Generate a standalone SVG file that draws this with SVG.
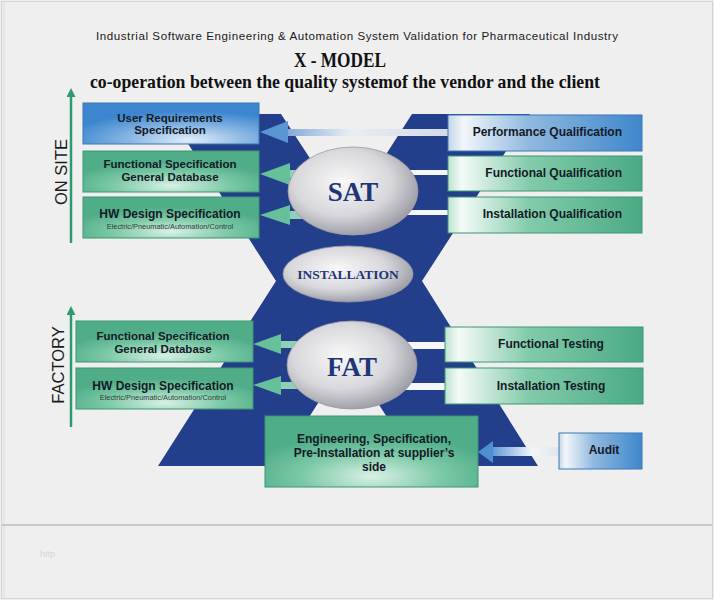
<svg xmlns="http://www.w3.org/2000/svg" width="714" height="600" viewBox="0 0 714 600">
<defs>
<style>
.t{font-family:"Liberation Sans",Arial,sans-serif;font-weight:bold;font-size:12px;fill:#141a26;text-anchor:middle}
.t2{font-family:"Liberation Sans",Arial,sans-serif;font-weight:bold;font-size:11.5px;fill:#141a26;text-anchor:middle}
.te{font-family:"Liberation Sans",Arial,sans-serif;font-weight:bold;font-size:12px;fill:#141a26;text-anchor:end}
.sub{font-family:"Liberation Sans",Arial,sans-serif;font-size:7.4px;fill:#2c3c36;text-anchor:middle}
.ser{font-family:"Liberation Serif","Times New Roman",serif;font-weight:bold;fill:#1e3577;text-anchor:middle}
.side{font-family:"Liberation Sans",Arial,sans-serif;font-size:16.5px;fill:#1a1a1a;text-anchor:middle}
.gb{stroke:#3f9675;stroke-width:1}
.bb{stroke:#3a78b8;stroke-width:1}
.el{stroke:#9a9aa4;stroke-width:0.8}
.vline{stroke:#2f9a6e;stroke-width:2.5}
</style>
<radialGradient id="gGreenL" cx="0.5" cy="0.85" r="0.6">
<stop offset="0" stop-color="#d9f1e6"/><stop offset="0.55" stop-color="#7cc9a6"/><stop offset="1" stop-color="#4fad88"/>
</radialGradient>
<linearGradient id="gGreenR" x1="0" y1="0" x2="1" y2="0">
<stop offset="0" stop-color="#bde2d0"/><stop offset="0.07" stop-color="#f5fbf8"/><stop offset="0.42" stop-color="#82cbaa"/><stop offset="1" stop-color="#4aaa84"/>
</linearGradient>
<radialGradient id="gBlueL" cx="0.6" cy="0.9" r="0.7">
<stop offset="0" stop-color="#e2edf8"/><stop offset="0.5" stop-color="#86b5e2"/><stop offset="1" stop-color="#3b86cf"/>
</radialGradient>
<linearGradient id="gBlueR" x1="0" y1="0" x2="1" y2="0">
<stop offset="0" stop-color="#c5d6e6"/><stop offset="0.08" stop-color="#f2f6fa"/><stop offset="0.42" stop-color="#8fb8df"/><stop offset="1" stop-color="#3f87cc"/>
</linearGradient>
<linearGradient id="gShaftB" x1="0" y1="0" x2="1" y2="0">
<stop offset="0" stop-color="#7fa9d6"/><stop offset="0.4" stop-color="#e9eef4"/><stop offset="1" stop-color="#d2dae4"/>
</linearGradient>
<linearGradient id="gShaftA" x1="0" y1="0" x2="1" y2="0">
<stop offset="0" stop-color="#5a96d2"/><stop offset="0.6" stop-color="#f2f6fa"/><stop offset="1" stop-color="#dfe6ee"/>
</linearGradient>
<radialGradient id="gEll" cx="0.42" cy="0.4" r="0.62">
<stop offset="0" stop-color="#f8f8f8"/><stop offset="0.6" stop-color="#d8d8dc"/><stop offset="1" stop-color="#9c9ca6"/>
</radialGradient>
<marker id="up" viewBox="0 0 10 10" refX="0" refY="5" markerWidth="11" markerHeight="9" markerUnits="userSpaceOnUse" orient="auto">
<path d="M0,0 L10,5 L0,10 z" fill="#2f9a6e"/>
</marker>
</defs>

<rect width="714" height="600" fill="#efefef"/>
<rect x="1.5" y="1.5" width="711" height="597" fill="none" stroke="#d2d2d2"/>
<line x1="4" y1="2" x2="4" y2="598" stroke="#dadada"/>
<line x1="2" y1="525" x2="712" y2="525" stroke="#bdbdbd" stroke-width="1.5"/>
<text x="40" y="557" style="font-family:'Liberation Sans',Arial,sans-serif;font-size:9px;fill:#d6d6d6">http</text>

<g id="titles">
<text x="357" y="40" style="font-family:'Liberation Sans',Arial,sans-serif;font-size:11.6px;fill:#1a1a1a;text-anchor:middle" textLength="522" lengthAdjust="spacing">Industrial Software Engineering &amp; Automation System Validation for Pharmaceutical Industry</text>
<text class="ser" x="340" y="66.5" style="font-size:21px;fill:#111" textLength="92" lengthAdjust="spacingAndGlyphs">X - MODEL</text>
<text class="ser" x="345" y="87.5" style="font-size:19px;fill:#111" textLength="510" lengthAdjust="spacingAndGlyphs">co-operation between the quality systemof the vendor and the client</text>
</g>

<g id="xshape">
<polygon points="169,114 281,114 347,215 412,114 530,114 422,281 538,466 418,466 348,356 278,466 158,466 276,281" fill="#233f8b"/>
</g>

<g id="connectors">
<rect x="286" y="129" width="162" height="7" fill="url(#gShaftB)"/>
<rect x="400" y="170" width="48" height="5" fill="#f4f6f8"/>
<rect x="400" y="210" width="48" height="5" fill="#f4f6f8"/>
<rect x="405" y="342" width="40" height="7" fill="#f4f6f8"/>
<rect x="405" y="383" width="40" height="7" fill="#f4f6f8"/>
<rect x="288" y="170" width="20" height="8" fill="#8fd1b4"/>
<rect x="288" y="211" width="20" height="8" fill="#8fd1b4"/>
<rect x="279" y="341" width="25" height="7" fill="#8fd1b4"/>
<rect x="279" y="382" width="25" height="7" fill="#8fd1b4"/>
<rect x="491" y="447" width="68" height="9" fill="url(#gShaftA)"/>
<polygon points="260,132 288,121 288,143" fill="#5a96d2"/>
<polygon points="260,174 290,163 290,185" fill="#66c09a"/>
<polygon points="260,215 290,205 290,225" fill="#66c09a"/>
<polygon points="253,344 281,334 281,354" fill="#66c09a"/>
<polygon points="253,385 281,376 281,395" fill="#66c09a"/>
<polygon points="478,452 493,441 493,463" fill="#4f8fd0"/>
<line class="vline" x1="71" y1="243" x2="71" y2="97" marker-end="url(#up)"/>
<line class="vline" x1="71" y1="427" x2="71" y2="315" marker-end="url(#up)"/>
</g>

<g id="sat"><ellipse class="el" cx="353" cy="191" rx="65" ry="44" fill="url(#gEll)"/><text class="ser" x="353" y="201" style="font-size:27px">SAT</text></g>
<g id="installation"><ellipse class="el" cx="348" cy="274" rx="65" ry="28" fill="url(#gEll)"/><text class="ser" x="348" y="279" style="font-size:13.5px">INSTALLATION</text></g>
<g id="fat"><ellipse class="el" cx="352" cy="365" rx="65" ry="44" fill="url(#gEll)"/><text class="ser" x="352" y="376" style="font-size:27px">FAT</text></g>

<g id="onsite-label"><text class="side" transform="translate(67,172) rotate(-90)">ON SITE</text></g>
<g id="factory-label"><text class="side" transform="translate(64,365) rotate(-90)">FACTORY</text></g>

<g id="urs"><rect class="bb" x="83" y="103" width="176" height="41" fill="url(#gBlueL)"/>
<text class="t2" x="170" y="121.5">User Requirements</text><text class="t2" x="170" y="134">Specification</text></g>
<g id="fs-site"><rect class="gb" x="83" y="151" width="176" height="41" fill="url(#gGreenL)"/>
<text class="t2" x="170" y="168">Functional Specification</text><text class="t2" x="170" y="180.5">General Database</text></g>
<g id="hw-site"><rect class="gb" x="83" y="197" width="176" height="41" fill="url(#gGreenL)"/>
<text class="t" x="170" y="218">HW Design Specification</text><text class="sub" x="170" y="229">Electric/Pneumatic/Automation/Control</text></g>

<g id="pq"><rect class="bb" x="448" y="115" width="194" height="36" fill="url(#gBlueR)"/><text class="te" x="622" y="136">Performance Qualification</text></g>
<g id="fq"><rect class="gb" x="448" y="156" width="194" height="35" fill="url(#gGreenR)"/><text class="te" x="622" y="177">Functional Qualification</text></g>
<g id="iq"><rect class="gb" x="448" y="197" width="194" height="36" fill="url(#gGreenR)"/><text class="te" x="622" y="218">Installation Qualification</text></g>

<g id="fs-factory"><rect class="gb" x="76" y="321" width="177" height="41" fill="url(#gGreenL)"/>
<text class="t2" x="163" y="340">Functional Specification</text><text class="t2" x="163" y="352.5">General Database</text></g>
<g id="hw-factory"><rect class="gb" x="76" y="368" width="177" height="41" fill="url(#gGreenL)"/>
<text class="t" x="163" y="390">HW Design Specification</text><text class="sub" x="163" y="400">Electric/Pneumatic/Automation/Control</text></g>

<g id="ft"><rect class="gb" x="445" y="327" width="198" height="35" fill="url(#gGreenR)"/><text class="t" x="551" y="348">Functional Testing</text></g>
<g id="it"><rect class="gb" x="445" y="368" width="198" height="36" fill="url(#gGreenR)"/><text class="t" x="551" y="390">Installation Testing</text></g>

<g id="engineering"><rect class="gb" x="265" y="416" width="213" height="71" fill="url(#gGreenL)"/>
<text class="t" x="374" y="443">Engineering, Specification,</text>
<text class="t" x="374" y="457">Pre-Installation at supplier’s</text>
<text class="t" x="374" y="471">side</text></g>
<g id="audit"><rect class="bb" x="559" y="433" width="83" height="36" fill="url(#gBlueR)"/><text class="t" x="604" y="454">Audit</text></g>
</svg>
